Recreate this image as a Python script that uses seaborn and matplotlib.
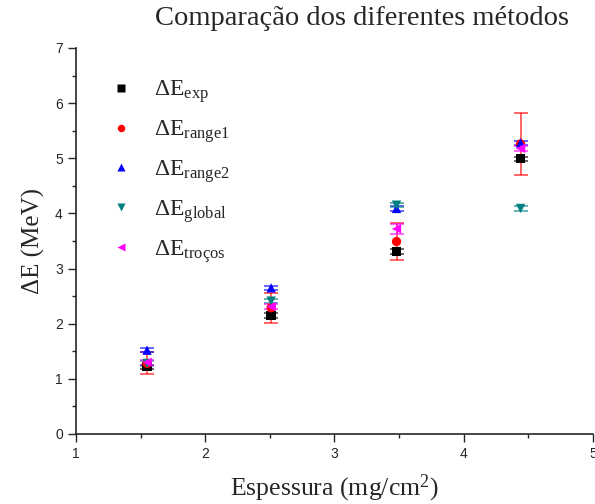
import pandas as pd
import seaborn as sns
import matplotlib.pyplot as plt
from matplotlib.ticker import MultipleLocator

# data
espessura = [1.55, 2.51, 3.48, 4.44]
series = ['exp', 'range1', 'range2', 'global', 'troços']
de_exp = [1.22, 2.15, 3.31, 4.99]
de_range1 = [1.28, 2.29, 3.49, 5.26]
de_range2 = [1.52, 2.65, 4.09, 5.28]
de_global = [1.28, 2.41, 4.15, 4.09]
de_trocos = [1.30, 2.31, 3.72, 5.18]
err_exp = [0.04, 0.04, 0.04, 0.04]
err_range1 = [0.20, 0.27, 0.33, 0.56]
err_range2 = [0.04, 0.04, 0.04, 0.04]
err_global = [0.04, 0.04, 0.04, 0.04]
err_trocos = [0.04, 0.04, 0.09, 0.04]

values = [de_exp, de_range1, de_range2, de_global, de_trocos]
errors = [err_exp, err_range1, err_range2, err_global, err_trocos]
colors = ['black', 'red', 'blue', '#008080', 'magenta']
markers = ['s', 'o', '^', 'v', '<']

rows = []
for s, v, e in zip(series, values, errors):
    for x, y, ye in zip(espessura, v, e):
        rows.append({'Espessura': x, 'dE': y, 'err': ye, 'serie': s})
df = pd.DataFrame(rows)

sns.set_style('ticks')
plt.rcParams['mathtext.fontset'] = 'custom'
plt.rcParams['mathtext.rm'] = 'Liberation Serif'
plt.rcParams['mathtext.it'] = 'Liberation Serif'

fig = plt.figure(figsize=(5.95, 5.04), dpi=100)
ax = fig.add_axes([0.1277, 0.1389, 0.8689, 0.7659])

# error bars first
for s, c in zip(series, colors):
    d = df[df['serie'] == s]
    ax.errorbar(d['Espessura'], d['dE'], yerr=d['err'], fmt='none',
                ecolor=c, elinewidth=1.2, capsize=5, capthick=1.2, alpha=0.7, zorder=2)

df['label'] = df['serie'].map(lambda s: 'ΔE$_{\\mathrm{' + s + '}}$')
sns.scatterplot(data=df, x='Espessura', y='dE', hue='label', style='label',
                palette=colors, markers=markers, s=45, edgecolor='none',
                ax=ax, zorder=3)

ax.set_xlim(1, 5)
ax.set_ylim(0, 7)
ax.xaxis.set_major_locator(MultipleLocator(1))
ax.xaxis.set_minor_locator(MultipleLocator(0.5))
ax.yaxis.set_major_locator(MultipleLocator(1))
ax.yaxis.set_minor_locator(MultipleLocator(0.5))
ax.tick_params(which='major', direction='out', length=6, width=1, labelsize=10)
ax.tick_params(which='minor', direction='out', length=3, width=1)
for lab in ax.get_xticklabels() + ax.get_yticklabels():
    lab.set_fontfamily('Liberation Sans')
sns.despine(ax=ax)
for sp in ax.spines.values():
    sp.set_linewidth(1.2)

ax.set_xlabel('Espessura (mg/cm$^2$)', fontsize=18.5, family='Liberation Serif', labelpad=8)
ax.set_ylabel('ΔE (MeV)', fontsize=18, family='Liberation Serif', labelpad=7)
fig.text(0.608, 0.963, 'Comparação dos diferentes métodos', ha='center', va='center',
         fontsize=20.5, family='Liberation Serif')

leg = ax.legend(loc='upper left', bbox_to_anchor=(0.023, 0.945), frameon=False,
                labelspacing=0.55, handletextpad=0.4, borderaxespad=0.0,
                markerscale=0.8, prop={'family': 'Liberation Serif', 'size': 17})
for t in leg.get_texts():
    t.set_fontfamily('Liberation Serif')

fig.savefig('out.png', dpi=100)
